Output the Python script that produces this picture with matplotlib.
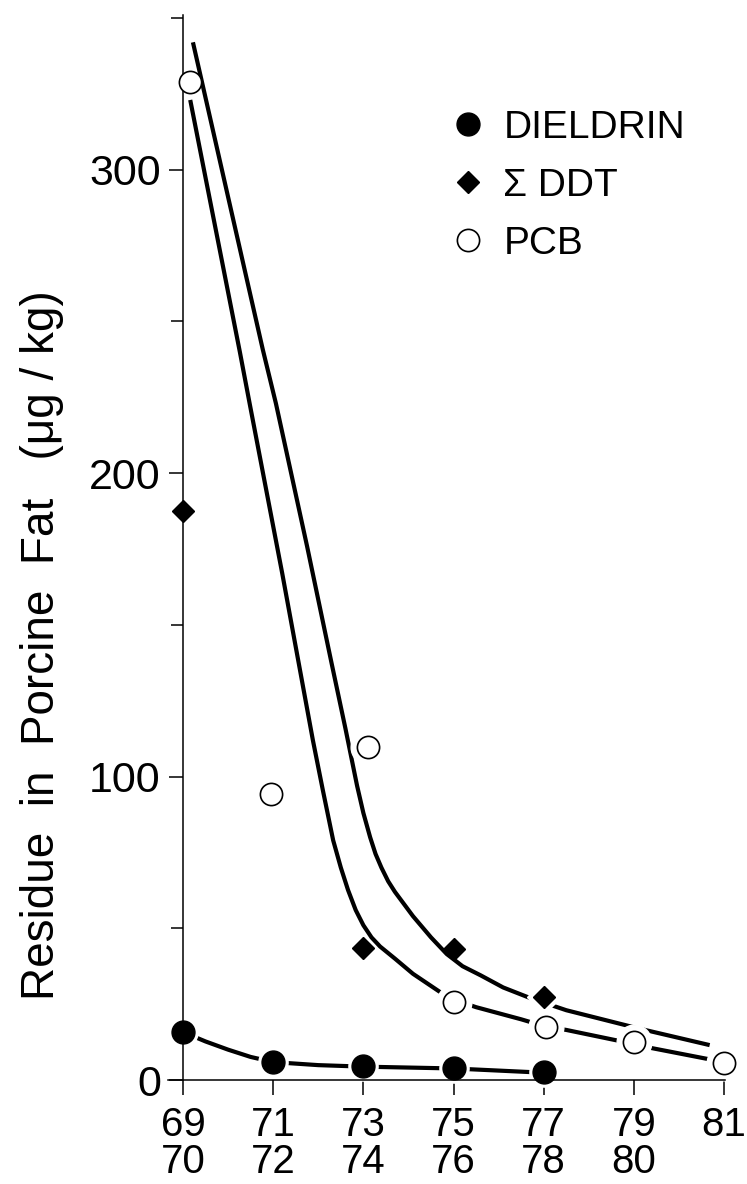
import matplotlib
matplotlib.use("Agg")
import matplotlib.pyplot as plt
from matplotlib.lines import Line2D

plt.rcParams['font.family'] = ['Liberation Sans', 'DejaVu Sans']

# tick positions (two-year periods)
years = [69, 71, 73, 75, 77, 79, 81]
year_labels = ["69\n70", "71\n72", "73\n74", "75\n76", "77\n78", "79\n80", "81"]

# measured residues
dieldrin_x = [69, 71, 73, 75, 77]
dieldrin = [15.8, 5.9, 4.6, 3.9, 2.6]
ddt_x = [69, 73, 75, 77]
ddt = [187.6, 43.5, 43.2, 27.4]
pcb_x = [69.15, 70.95, 73.1, 75, 77.05, 79, 81]
pcb = [329, 94.3, 109.8, 25.7, 17.5, 12.5, 5.6]

# fitted curves
upper_x = [69.22, 70.0, 70.77, 71.06, 71.75, 72.3, 72.6, 72.86, 73.0, 73.15, 73.27, 73.4,
           73.55, 73.7, 74.1, 74.5, 74.85, 75.2, 75.6, 76.1, 76.7, 77.5, 78.3, 79.1, 80.68]
upper = [342, 291, 240.7, 223, 176, 137, 116, 97, 88, 80, 74.5, 70,
         65.5, 62, 54, 47, 41.5, 37.5, 34.5, 30.5, 27, 23, 20, 17, 11.5]
lower_x = [69.16, 70.26, 70.49, 71.2, 71.88, 72.1, 72.33, 72.5, 72.66, 72.83, 73.0, 73.18,
           73.37, 73.7, 74.1, 74.7, 75.0, 75.5, 76.5, 77.0, 77.5, 78.7, 79.4, 80.68, 81.0]
lower = [323, 240, 222, 167, 112, 95.6, 79, 70, 62.6, 56, 51, 47,
         44, 40, 35, 29, 26.5, 24, 20, 17.8, 16.5, 12.8, 10.5, 6.8, 5.6]
dieldrin_line_x = [69, 69.5, 70.0, 70.5, 71, 72, 73, 74, 75, 76, 77]
dieldrin_line = [15.8, 12.7, 10.0, 7.6, 5.9, 4.9, 4.4, 4.1, 3.8, 3.1, 2.4]

fig = plt.figure(figsize=(7.47, 11.84), dpi=100)
ax = fig.add_axes([168 / 747, 104 / 1184, 557 / 747, 1065 / 1184])

lw = 3.0
ax.plot(upper_x, upper, color="black", lw=lw, zorder=2, solid_capstyle="butt")
ax.plot(lower_x, lower, color="black", lw=lw, zorder=2, solid_capstyle="butt")
ax.plot(dieldrin_line_x, dieldrin_line, color="black", lw=lw, zorder=2, solid_capstyle="butt")

# white halos break the lines around the markers
ax.plot(dieldrin_x, dieldrin, "o", ms=21, color="white", zorder=2.2, clip_on=False)
ax.plot(pcb_x[1:], pcb[1:], "o", ms=25, color="white", zorder=2.2, clip_on=False)
ax.plot(ddt_x[-1:], ddt[-1:], "D", ms=17, color="white", zorder=2.2, clip_on=False)

ax.plot(dieldrin_x, dieldrin, "o", ms=16.5, color="black", zorder=3, clip_on=False)
ax.plot(ddt_x, ddt, "D", ms=11, color="black", zorder=3, clip_on=False)
ax.plot(pcb_x, pcb, "o", ms=16, mfc="white", mec="black", mew=1.2, zorder=3, clip_on=False)

ax.set_xlim(68.667, 81.02)
ax.set_ylim(0, 351)
ax.spines["top"].set_visible(False)
ax.spines["right"].set_visible(False)
ax.spines["left"].set_position(("data", 69))
for s in ["left", "bottom"]:
    ax.spines[s].set_linewidth(1.1)
    ax.spines[s].set_zorder(2.5)

ax.set_xticks(years, labels=year_labels)
ax.set_yticks([0, 100, 200, 300])
ax.set_yticks([50, 150, 250, 350], minor=True)
ax.tick_params(axis="x", direction="out", length=11, width=1.1, pad=8, labelsize=29)
for lab in ax.get_xticklabels():
    lab.set_linespacing(0.95)
ax.tick_params(axis="y", which="major", direction="out", length=10, width=1.1, pad=6, labelsize=31)
ax.tick_params(axis="y", which="minor", direction="out", length=9, width=1.1)

fig.text(42 / 747, 1 - 645 / 1184, "Residue  in  Porcine  Fat   (\u03bcg / kg)",
         rotation=90, ha="center", va="center", fontsize=33)

handles = [
    Line2D([], [], ls="none", marker="o", ms=16.5, color="black"),
    Line2D([], [], ls="none", marker="D", ms=11, color="black"),
    Line2D([], [], ls="none", marker="o", ms=16, mfc="white", mec="black", mew=1.2),
]
ax.legend(handles, ["DIELDRIN", "\u03a3 DDT", "PCB"], loc="upper left",
          bbox_to_anchor=(449 / 747, 1 - 110 / 1184), bbox_transform=fig.transFigure,
          frameon=False, fontsize=28, handlelength=1.0, handletextpad=0.4,
          labelspacing=0.56, borderpad=0, borderaxespad=0)

fig.savefig("out.png", dpi=100)
